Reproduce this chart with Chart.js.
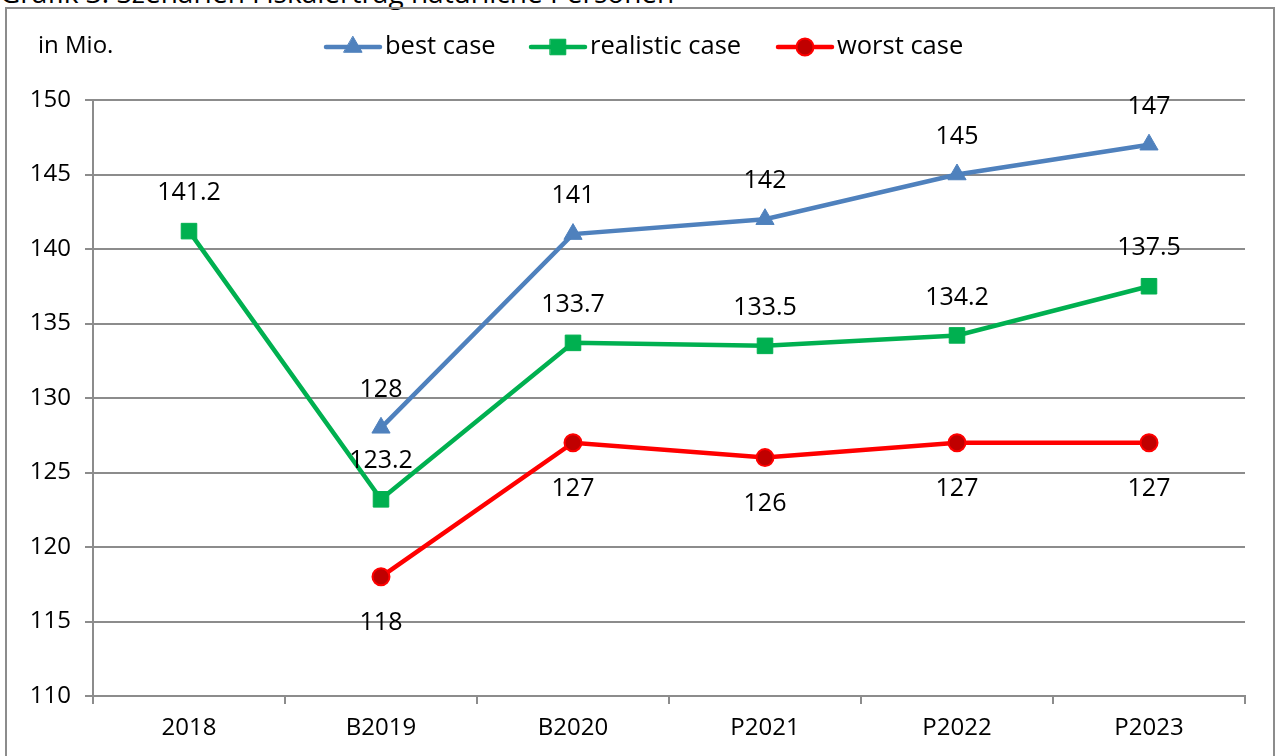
<!DOCTYPE html>
<html>
<head>
<meta charset="utf-8">
<script src="https://cdn.jsdelivr.net/npm/chart.js@4"></script>
<style>
  html, body { margin: 0; padding: 0; background: #fff; overflow: hidden; }
  #wrap { position: relative; width: 1277px; height: 756px; }
  #title { position: absolute; left: 0; top: -27px; font: 28px "Open Sans", sans-serif; color: #000; white-space: nowrap; }
  canvas { position: absolute; left: 0; top: 0; }
</style>
</head>
<body>
<div id="wrap">
  <div id="title">Grafik 3: Szenarien Fiskalertrag natürliche Personen</div>
  <canvas id="chart" width="1277" height="756"></canvas>
</div>
<script>
var categories = ['2018', 'B2019', 'B2020', 'P2021', 'P2022', 'P2023'];
var bestCase = [null, 128, 141, 142, 145, 147];
var realisticCase = [141.2, 123.2, 133.7, 133.5, 134.2, 137.5];
var worstCase = [null, 118, 127, 126, 127, 127];
var yTicks = [110, 115, 120, 125, 130, 135, 140, 145, 150];

var FONT = '"Open Sans", sans-serif';

// frame, "in Mio." and legend
var framePlugin = {
  id: 'frame',
  beforeDraw: function (chart) {
    var ctx = chart.ctx;
    ctx.save();
    ctx.strokeStyle = '#8c8c8c';
    ctx.lineWidth = 2;
    ctx.strokeRect(6, 8, 1268, 800);
    ctx.restore();
  },
  afterDraw: function (chart) {
    var ctx = chart.ctx;
    ctx.save();
    ctx.font = '24px ' + FONT;
    ctx.fillStyle = '#000';
    ctx.textBaseline = 'middle';
    ctx.textAlign = 'left';
    ctx.fillText('in Mio.', 38, 46);

    ctx.font = '25.5px ' + FONT;
    var items = [
      { x: 326, ds: 0 },
      { x: 531, ds: 1 },
      { x: 778, ds: 2 }
    ];
    items.forEach(function (it) {
      var ds = chart.data.datasets[it.ds];
      var y = 47;
      var opts = { pointStyle: ds.pointStyle, radius: ds.pointRadius, borderWidth: ds.pointBorderWidth };
      ctx.strokeStyle = ds.borderColor;
      ctx.lineWidth = 4.5;
      ctx.lineCap = 'round';
      ctx.beginPath();
      ctx.moveTo(it.x, y);
      ctx.lineTo(it.x + 54, y);
      ctx.stroke();
      ctx.fillStyle = ds.pointBackgroundColor;
      ctx.strokeStyle = ds.pointBorderColor;
      ctx.lineWidth = ds.pointBorderWidth;
      Chart.helpers.drawPoint(ctx, opts, it.x + 27, y);
      ctx.fillStyle = '#000';
      ctx.fillText(ds.label, it.x + 59, y);
    });
    ctx.restore();
  }
};

// value labels next to the points
var labelPlugin = {
  id: 'valueLabels',
  afterDatasetsDraw: function (chart) {
    var ctx = chart.ctx;
    ctx.save();
    ctx.font = '25px ' + FONT;
    ctx.fillStyle = '#000';
    ctx.textAlign = 'center';
    ctx.textBaseline = 'middle';
    chart.data.datasets.forEach(function (ds, i) {
      var meta = chart.getDatasetMeta(i);
      meta.data.forEach(function (pt, j) {
        var v = ds.data[j];
        if (v === null) return;
        var dy = ds.labelBelow ? 46 : -38;
        ctx.fillText(String(v), pt.x, pt.y + dy);
      });
    });
    ctx.restore();
  }
};

new Chart(document.getElementById('chart'), {
  type: 'line',
  data: {
    labels: categories,
    datasets: [{
      label: 'best case',
      data: bestCase,
      borderColor: '#4f81bd',
      backgroundColor: '#4f81bd',
      pointBackgroundColor: '#4f81bd',
      pointBorderColor: '#4f81bd',
      pointStyle: 'triangle',
      pointRadius: 10.5,
      pointBorderWidth: 1,
      borderWidth: 4.5,
      tension: 0
    }, {
      label: 'realistic case',
      data: realisticCase,
      borderColor: '#00b050',
      backgroundColor: '#00b050',
      pointBackgroundColor: '#00b050',
      pointBorderColor: '#00b050',
      pointStyle: 'rect',
      pointRadius: 11,
      pointBorderWidth: 1,
      borderWidth: 4.5,
      tension: 0
    }, {
      label: 'worst case',
      data: worstCase,
      borderColor: '#ff0000',
      backgroundColor: '#c00000',
      pointBackgroundColor: '#c00000',
      pointBorderColor: '#ff0000',
      pointStyle: 'circle',
      pointRadius: 8.5,
      pointBorderWidth: 2,
      borderWidth: 4.5,
      tension: 0,
      labelBelow: true
    }]
  },
  options: {
    responsive: false,
    animation: false,
    layout: { padding: { top: 100, right: 32, bottom: 0, left: 0 } },
    plugins: {
      legend: { display: false },
      tooltip: { enabled: false }
    },
    scales: {
      x: {
        offset: true,
        grid: {
          offset: true,
          drawOnChartArea: false,
          drawTicks: true,
          tickLength: 8,
          color: '#8c8c8c',
          lineWidth: 2
        },
        border: { color: '#8c8c8c', width: 2 },
        ticks: { color: '#000', font: { size: 24, family: FONT }, padding: 10 },
        afterFit: function (s) { s.height = 60; }
      },
      y: {
        min: 110,
        max: 150,
        afterBuildTicks: function (s) { s.ticks = yTicks.map(function (v) { return { value: v }; }); },
        grid: { color: '#8c8c8c', lineWidth: 2, tickLength: 8 },
        border: { color: '#8c8c8c', width: 2 },
        ticks: { color: '#000', font: { size: 24, family: FONT }, padding: 14 },
        afterFit: function (s) { s.width = 93; }
      }
    }
  },
  plugins: [framePlugin, labelPlugin]
});
</script>
</body>
</html>
